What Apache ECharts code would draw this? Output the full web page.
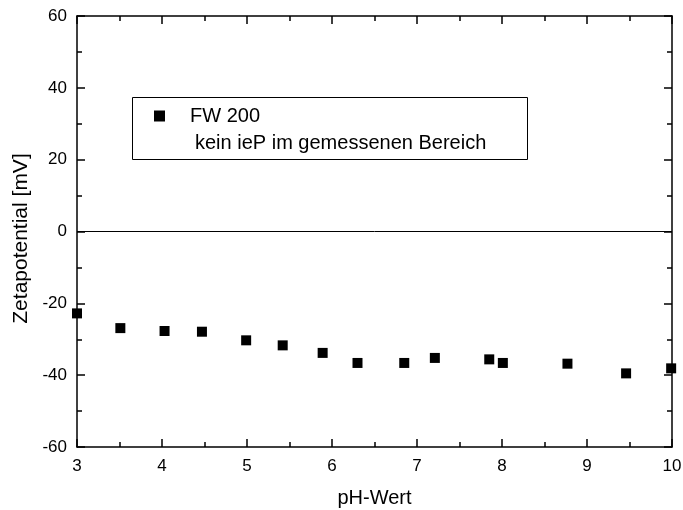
<!DOCTYPE html>
<html>
<head>
<meta charset="utf-8">
<script src="https://cdn.jsdelivr.net/npm/echarts@6/dist/echarts.min.js"></script>
<style>
  html, body { margin: 0; padding: 0; background: #fff; }
  #chart { width: 683px; height: 510px; }
</style>
</head>
<body>
<div id="chart"></div>
<script>
const phValues = [3.0, 3.51, 4.03, 4.47, 4.99, 5.42, 5.89, 6.30, 6.85, 7.21, 7.85, 8.01, 8.77, 9.46, 9.99];
const zetaValues = [-22.8, -26.9, -27.7, -27.9, -30.3, -31.7, -33.8, -36.6, -36.6, -35.2, -35.6, -36.6, -36.8, -39.5, -38.1];
const seriesName = 'FW 200';
const noteText = 'kein ieP im gemessenen Bereich';

const points = phValues.map((x, i) => [x, zetaValues[i]]);
const font = 'Liberation Sans, Arial, sans-serif';

const myChart = echarts.init(document.getElementById('chart'));

const xBase = {
  type: 'value',
  min: 3,
  max: 10,
  interval: 1,
  axisLine: { onZero: false, lineStyle: { color: '#000', width: 1.5 } },
  axisTick: { inside: true, length: 8, lineStyle: { color: '#000', width: 1.5 } },
  minorTick: { show: true, splitNumber: 2, length: 5, lineStyle: { color: '#000', width: 1.5 } },
  splitLine: { show: false }
};
const yBase = {
  type: 'value',
  min: -60,
  max: 60,
  interval: 20,
  axisLine: { onZero: false, lineStyle: { color: '#000', width: 1.5 } },
  axisTick: { inside: true, length: 8, lineStyle: { color: '#000', width: 1.5 } },
  minorTick: { show: true, splitNumber: 2, length: 5, lineStyle: { color: '#000', width: 1.5 } },
  splitLine: { show: false }
};

const option = {
  animation: false,
  backgroundColor: '#fff',
  grid: { left: 77, right: 11, top: 16, bottom: 63, outerBoundsMode: 'none' },
  legend: {
    data: [seriesName],
    left: 149,
    top: 101,
    icon: 'rect',
    itemWidth: 11,
    itemHeight: 11,
    textStyle: { fontFamily: font, fontSize: 20, color: '#000', padding: [0, 0, 0, 20] }
  },
  xAxis: [
    Object.assign({}, xBase, {
      position: 'bottom',
      name: 'pH-Wert',
      nameLocation: 'middle',
      nameGap: 41,
      nameTextStyle: { fontFamily: font, fontSize: 20, color: '#000' },
      axisLabel: { margin: 11, fontFamily: font, fontSize: 17, color: '#000' }
    }),
    Object.assign({}, xBase, { position: 'top', axisLabel: { show: false } })
  ],
  yAxis: [
    Object.assign({}, yBase, {
      position: 'left',
      name: 'Zetapotential [mV]',
      nameLocation: 'middle',
      nameGap: 45,
      nameTextStyle: { fontFamily: font, fontSize: 21, color: '#000', padding: [0, 14, 0, 0] },
      axisLabel: { margin: 10, fontFamily: font, fontSize: 17, color: '#000' }
    }),
    Object.assign({}, yBase, { position: 'right', axisLabel: { show: false } })
  ],
  graphic: [
    {
      type: 'rect',
      shape: { x: 132.5, y: 97.5, width: 395, height: 62 },
      style: { fill: 'none', stroke: '#000', lineWidth: 1 },
      z: 10
    },
    {
      type: 'text',
      left: 195,
      top: 133,
      style: { text: noteText, fontFamily: font, fontSize: 20, fill: '#000' },
      z: 10
    }
  ],
  series: [{
    name: seriesName,
    type: 'scatter',
    symbol: 'rect',
    symbolSize: 10,
    itemStyle: { color: '#000', opacity: 1 },
    data: points,
    clip: false,
    markLine: {
      silent: true,
      symbol: 'none',
      label: { show: false },
      lineStyle: { color: '#000', width: 1, type: 'solid' },
      data: [{ yAxis: 0 }]
    }
  }]
};

myChart.setOption(option);
</script>
</body>
</html>
